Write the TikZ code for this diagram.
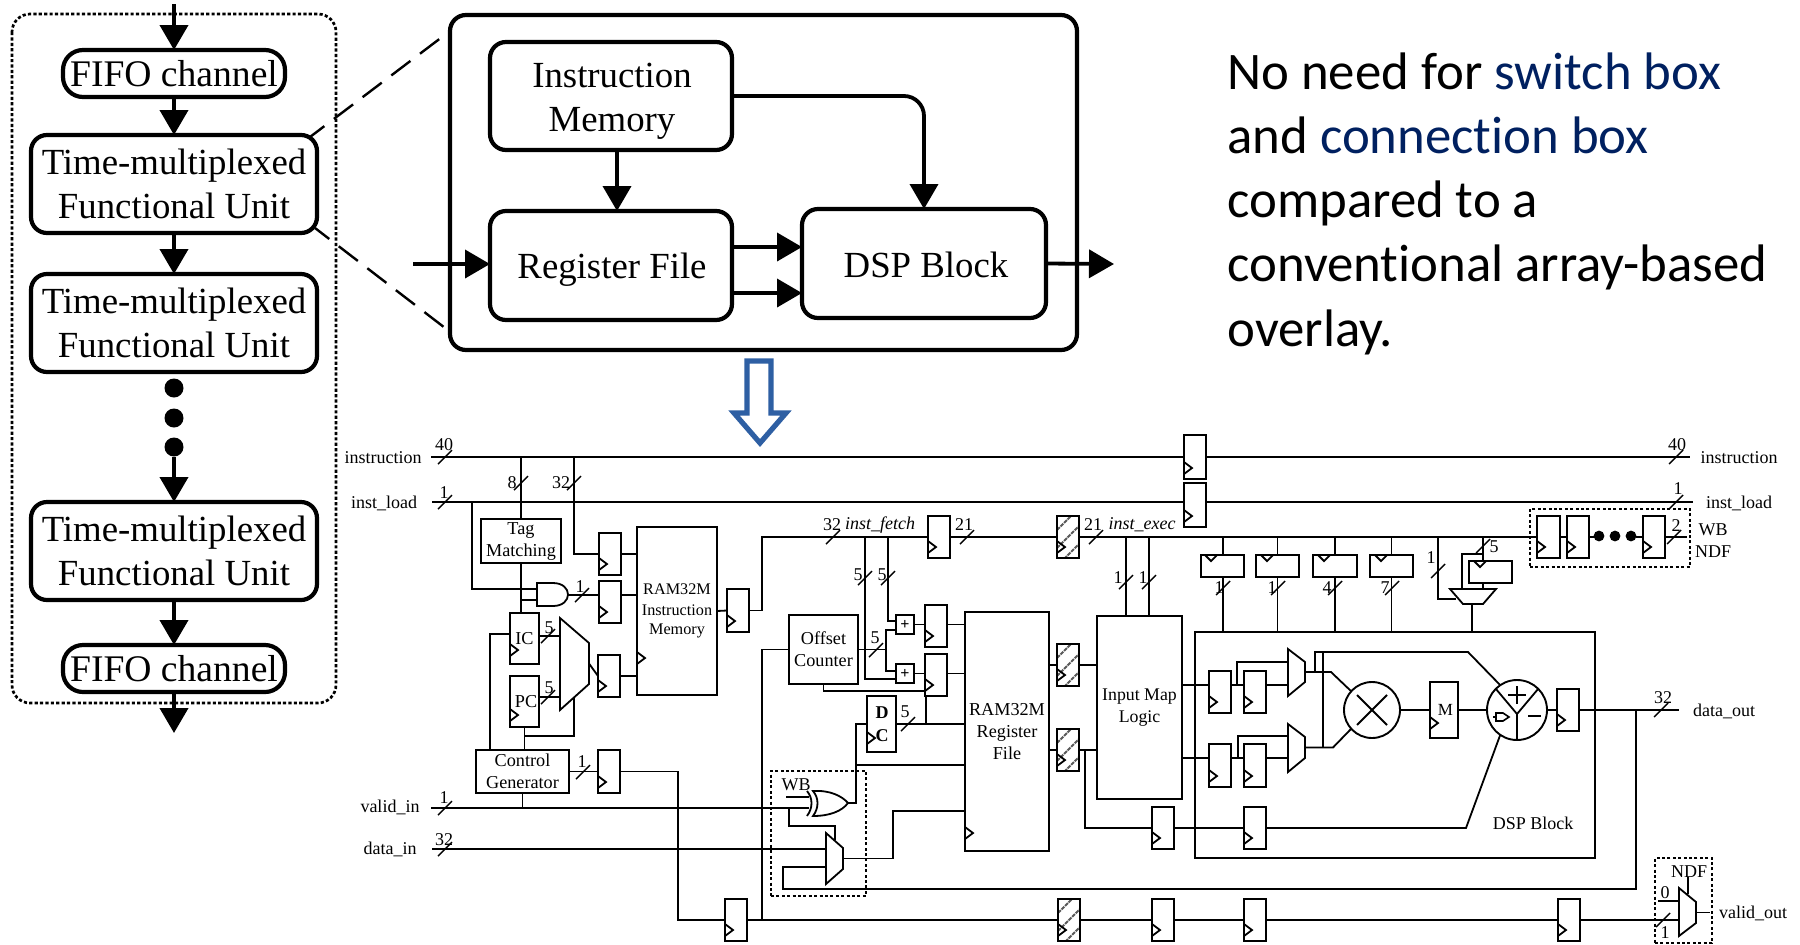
\documentclass[tikz,border=0pt]{standalone}
\usepackage{fontspec}
\setmainfont{Liberation Serif}
\newfontfamily\calfont[Ligatures=NoCommon]{Carlito}
\usetikzlibrary{arrows.meta}
\definecolor{navyw}{HTML}{002060}
\definecolor{bluearrow}{HTML}{2E5FA3}
\newcounter{lb}
\tikzset{
 wire/.style={draw=black,line width=0.9pt,line join=miter,line cap=butt},
 cbox/.style={draw=black,fill=white,line width=0.95pt,inner sep=0pt,outer sep=0pt,align=center,font=\fontsize{9.1}{11}\selectfont},
 tbox/.style={line width=2.1pt,rounded corners=8pt,font=\fontsize{18.4}{22}\selectfont},
 fifobox/.style={tbox,rounded corners=10pt,font=\fontsize{18.8}{22}\selectfont},
 mainbox/.style={line width=2.1pt,rounded corners=8pt,fill=none},
 dbox/.style={draw=black,fill=none,line width=0.75pt,dash pattern=on 1.5pt off 1.2pt},
 barrow/.style={draw=black,line width=2pt,-{Triangle[length=12.5pt,width=14pt]}},
 harrow/.style={barrow,line width=1.9pt},
 tx/.style={inner sep=0pt,outer sep=0pt,font=\fontsize{9}{11}\selectfont},
 tlab/.style={inner sep=0pt,outer sep=0pt,align=center,font=\fontsize{18.4}{22}\selectfont},
 hatchl/.style={draw=black!65,line width=1pt,dash pattern=on 2pt off 0.5pt},
 bigt/.style={inner sep=0pt,anchor=base west,font=\calfont\fontsize{26.4}{30}\selectfont},
 bmk/.style={draw=black,line width=0.7pt},
 dashl/.style={draw=black,line width=1.2pt,dash pattern=on 12pt off 6pt,dash phase=3pt},
}
\newcommand{\bx}[7][]{\node[cbox,#1,minimum width={(#5-#3)*0.5pt},minimum height={(#6-#4)*0.5pt}] (#2) at ({(#3+#5)/2},{(#4+#6)/2}) {#7};}
\newcommand{\clk}[2]{\draw[wire] ([shift={(0,-#2-6)}]#1.south west) -- ([shift={(8,-#2)}]#1.south west) -- ([shift={(0,-#2+6)}]#1.south west);}
\newcommand{\tclk}[2]{\draw[wire] ([shift={(#2-6,0)}]#1.north west) -- ([shift={(#2,6)}]#1.north west) -- ([shift={(#2+6,0)}]#1.north west);}
\newcommand{\ff}[5]{\bx{#1}{#2}{#3}{#4}{#5}{}\clk{#1}{11}}
\newcommand{\tff}[6]{\bx{#1}{#2}{#3}{#4}{#5}{}\tclk{#1}{#6}}
\newcommand{\hff}[5]{\bx{#1}{#2}{#3}{#4}{#5}{}
 \begin{scope}\clip (#1.south west) rectangle (#1.north east);
 \foreach \k in {14,32,50}{\draw[hatchl] ({#2},{#3+\k}) -- ({#4},{#3+\k-22});}
 \end{scope}
 \draw[wire] (#1.south west) rectangle (#1.north east);\clk{#1}{11}}
\newcommand{\busmark}[2]{\draw[bmk] ({#1-7},{#2+7}) -- ({#1+7},{#2-7});}
\newcommand{\lab}[3]{\stepcounter{lb}\node[tx] (lb\arabic{lb}) at (#1,#2) {#3};}
\newcommand{\mux}[7]{\draw[wire,fill=white] (#2,#3) -- (#5,#6) -- (#5,#7) -- (#2,#4) -- cycle;
 \coordinate (#1-w) at (#2,{(#3+#4)/2}); \coordinate (#1-e) at (#5,{(#6+#7)/2});}
\begin{document}
\begin{tikzpicture}[x=0.5pt,y=-0.5pt]
\useasboundingbox (0,0) rectangle (1800,944);
% ---------- left column
\draw[line width=1.35pt,dash pattern=on 1.6pt off 1.1pt,rounded corners=9pt] (12,14) rectangle (336,703);
\bx[fifobox]{fa}{63}{50}{285}{97}{FIFO channel}
\bx[tbox]{tm1}{31}{135}{317}{233}{Time-multiplexed\\Functional Unit}
\bx[tbox]{tm2}{31}{274}{317}{372}{Time-multiplexed\\Functional Unit}
\node[circle,fill=black,inner sep=0pt,minimum size=9.5pt] (d1) at (174,388) {};
\node[circle,fill=black,inner sep=0pt,minimum size=9.5pt] (d2) at (174,418) {};
\node[circle,fill=black,inner sep=0pt,minimum size=9.5pt] (d3) at (174,447) {};
\bx[tbox]{tm3}{31}{502}{317}{600}{Time-multiplexed\\Functional Unit}
\bx[fifobox]{fb}{63}{645}{285}{692}{FIFO channel}
\coordinate (topin) at (174,4);
\coordinate (botout) at (174,733);
\draw[barrow] (topin) -- (fa.north);
\draw[barrow] (fa.south) -- (tm1.north);
\draw[barrow] (tm1.south) -- (tm2.north);
\draw[barrow] (d3.south) -- (tm3.north);
\draw[barrow] (tm3.south) -- (fb.north);
\draw[barrow] (fb.south) -- (botout);
% ---------- zoom block
\bx[mainbox]{fu}{450}{15}{1077}{350}{}
\bx[tbox]{im}{490}{42}{732}{150}{}
\bx[tbox]{rf}{490}{211}{732}{320}{}
\bx[tbox]{dsp}{802}{209}{1046}{318}{}
\node[tlab] (imt) at (612,101) {Instruction\\Memory};
\node[tlab] (rft) at (612,270) {Register File};
\node[tlab] (dspt) at (926,265) {DSP Block};
\coordinate (dl1) at (310,137); \coordinate (dl2) at (446,34);
\coordinate (dl3) at (315,228); \coordinate (dl4) at (449,331);
\draw[dashl] (dl1) -- (dl2);
\draw[dashl] (dl3) -- (dl4);
\draw[harrow] ([xshift=3pt]im.south) -- ([xshift=3pt]rf.north);
\draw[harrow,rounded corners=10pt] (im.east) -| (dsp.north);
\coordinate (rr1) at (732,247); \coordinate (rr2) at (732,293);
\draw[harrow] (rr1) -- (rr1 -| dsp.west);
\draw[harrow] (rr2) -- (rr2 -| dsp.west);
\coordinate (fuin) at (413,264); \coordinate (fuout) at (1114,264);
\draw[harrow] (fuin) -- (fuin -| rf.west);
\draw[harrow] (dsp.east) -- (fuout);
% ---------- blue arrow
\draw[draw=bluearrow,fill=white,line width=2.6pt,line join=miter] (747,361) -- (771,361) -- (771,413) -- (786,413) -- (760,443) -- (734,413) -- (747,413) -- cycle;
% ---------- right text
\node[bigt] (s1) at (1227,89) {No need for \textcolor{navyw}{switch box}};
\node[bigt] (s2) at (1227,153) {and \textcolor{navyw}{connection box}};
\node[bigt] (s3) at (1227,217) {compared to a};
\node[bigt] (s4) at (1227,281) {conventional array-based};
\node[bigt] (s5) at (1227,346) {overlay.};
% ---------- dashed groups
\bx[dbox]{wbbox}{771}{771}{866}{896}{}
\bx[dbox]{ffbox}{1530}{509}{1690}{567}{}
\bx[dbox]{ndfbox}{1655}{858}{1712}{943}{}
% ---------- circuit coordinates
\coordinate (ini) at (431,457); \coordinate (ino) at (1690,457);
\coordinate (lni) at (432,502); \coordinate (lno) at (1693,502);
\coordinate (vi) at (431,808); \coordinate (di) at (432,849);
\coordinate (jt) at (574,457); \coordinate (jl) at (472,502);
\coordinate (main) at (762,537); \coordinate (jd) at (1636,710);
% ---------- boxes
\ff{fin}{1184}{435}{1206}{479}
\ff{fln}{1184}{483}{1206}{527}
\bx{tag}{481}{519}{561}{563}{Tag\\Matching}
\ff{fa1}{599}{533}{621}{575}
\ff{fa2}{599}{581}{621}{623}
\ff{fa3}{598}{655}{620}{697}
\ff{fa4}{598}{750}{620}{793}
\ff{fa5}{727}{589}{749}{632}
\bx[font=\fontsize{8.1}{10}\selectfont]{ramim}{637}{527}{717}{695}{RAM32M\\[0.5pt]Instruction\\[-0.5pt]Memory}
\clk{ramim}{37}
\bx{ic}{510}{613}{539}{664}{IC}\clk{ic}{14}
\bx{pc}{510}{676}{539}{727}{\,PC}\clk{pc}{12}
\bx{ctl}{476}{750}{569}{793}{Control\\Generator}
\bx{oc}{789}{615}{858}{684}{Offset\\Counter}
\bx[font=\bfseries\fontsize{8}{9}\selectfont]{pla}{896}{615}{914}{634}{+}
\bx[font=\bfseries\fontsize{8}{9}\selectfont]{plb}{896}{664}{914}{683}{+}
\ff{fy1}{925}{605}{947}{647}
\ff{fy2}{925}{654}{947}{696}
\bx{dc}{867}{696}{896}{752}{}\clk{dc}{14}
\bx{ramr}{965}{612}{1049}{851}{RAM32M\\Register\\File}\clk{ramr}{18}
\ff{fm}{928}{516}{950}{558}
\hff{hm}{1057}{516}{1079}{558}
\hff{hr1}{1057}{644}{1079}{686}
\hff{hr2}{1057}{729}{1079}{771}
\bx[font=\fontsize{8.9}{11}\selectfont]{imap}{1097}{616}{1182}{799}{Input Map\\Logic}
\ff{f5}{1152}{807}{1174}{849}
\bx[fill=none]{dspb}{1195}{632}{1595}{858}{}
\ff{fp1}{1209}{671}{1231}{713}
\ff{fp2}{1244}{671}{1266}{713}
\ff{fq1}{1209}{744}{1231}{787}
\ff{fq2}{1244}{744}{1266}{787}
\ff{f6}{1244}{807}{1266}{849}
\tff{tf1}{1201}{555}{1244}{577}{10}
\tff{tf2}{1256}{555}{1299}{577}{11}
\tff{tf3}{1313}{555}{1357}{577}{11}
\tff{tf4}{1370}{555}{1413}{577}{11}
\tff{tf5}{1469}{561}{1512}{583}{11}
\ff{fw1}{1537}{516}{1560}{558}
\ff{fw2}{1567}{516}{1589}{558}
\ff{fw3}{1643}{516}{1665}{558}
\node[circle,fill=black,inner sep=0pt,minimum size=5.4pt] (w1) at (1599,536) {};
\node[circle,fill=black,inner sep=0pt,minimum size=5.4pt] (w2) at (1615,536) {};
\node[circle,fill=black,inner sep=0pt,minimum size=5.4pt] (w3) at (1631,536) {};
\bx{fmm}{1430}{682}{1458}{738}{\,\fontsize{8.5}{9}\selectfont M}\clk{fmm}{15}
\ff{f7}{1557}{689}{1579}{731}
\node[draw=black,fill=white,circle,line width=0.95pt,minimum size=28pt,inner sep=0pt,outer sep=0pt] (mult) at (1372,710) {};
\node[draw=black,fill=white,circle,line width=0.95pt,minimum size=30pt,inner sep=0pt,outer sep=0pt] (add) at (1517,710) {};
\ff{fb1}{725}{899}{747}{941}
\hff{hb}{1058}{899}{1080}{941}
\ff{fb2}{1152}{899}{1174}{941}
\ff{fb3}{1244}{899}{1266}{941}
\ff{fb4}{1558}{899}{1580}{941}
% gates
\draw[wire,fill=white] (537,583) -- (553,583) .. controls (573,583) and (573,606) .. (553,606) -- (537,606) -- cycle;
\coordinate (ando) at (568,595);
\draw[wire,fill=white] (813,791) .. controls (830,790) and (842,796) .. (848,803) .. controls (842,811) and (830,816) .. (813,816) .. controls (819,808) and (819,798) .. (813,791) -- cycle;
\draw[wire] (807,791) .. controls (813,798) and (813,808) .. (807,816);
\coordinate (xo) at (848,803);
\mux{mi}{560}{618}{710}{589}{643}{684}
\mux{mw}{826}{833}{884}{843}{848}{869}
\mux{mxa}{1288}{649}{696}{1305}{662}{682}
\mux{mxb}{1288}{724}{772}{1305}{737}{758}
\mux{vm}{1679}{888}{936}{1696}{902}{923}
\draw[wire,fill=white] (1450,589) -- (1496,589) -- (1483,604) -- (1463,604) -- cycle;
% ---------- wires: inputs
\draw[wire] (ini) -- (fin.west);
\draw[wire] (fin.east) -- (ino);
\draw[wire] (lni) -- (lni -| fln.west);
\draw[wire] (lni -| fln.east) -- (lno);
\draw[wire] (tag.north) -- (tag.north |- ini);
\draw[wire] (jt) |- (fa1.west);
\draw[wire] (fa1.east) -- (fa1.east -| ramim.west);
\draw[wire] (jl) |- (537,589);
\draw[wire] (tag.south) -- (tag.south |- ic.north);
\draw[wire] (521,600) -- (537,600);
\draw[wire] (ando) -- (ando -| fa2.west);
\draw[wire] (ando -| fa2.east) -- (ando -| ramim.west);
\draw[wire] (ic.east |- 0,636) -- (560,636);
\draw[wire] (pc.east |- 0,697) -- (560,697);
\draw[wire] (mi-e) -- (fa3.west);
\draw[wire] (fa3.east) -- (fa3.east -| ramim.west);
\draw[wire] (pc.south) -- (pc.south |- ctl.north);
\draw[wire] (574,697) |- (pc.south |- 0,736);
\draw[wire] ([xshift=7pt]ctl.north west) |- (ic.west |- 0,634);
\draw[wire] (ctl.east) -- (fa4.west);
\draw[wire] (fa4.east) -- (678,771.5) |- (fb1.west);
\draw[wire] (ctl.south) -- (ctl.south |- vi);
\draw[wire] (vi) -- (809,808);
\draw[wire] (786,797) -- (809,797);
\draw[wire] (789,808) |- (835,826) -- (835,840);
\draw[wire] (di) -- (di -| mw-w);
\draw[wire] (ramim.east) -- (fa5.west);
\draw[wire] (fa5.east) -- (762,610.5) |- (fm.west);
\draw[wire] (fm.east) -- (hm.west);
\draw[wire] (hm.east) -- (fw1.west);
\draw[wire] (fw1.east) -- (fw2.west);
\draw[wire] (fw2.east) -- (1596,537);
\draw[wire] (1636,537) -- (fw3.west);
\draw[wire] (fw3.east) -- (1687,537);
% offset / reg file
\draw[wire] (oc.west) -| (762,920);
\draw[wire] (fb1.east) -- (hb.west);
\draw[wire] (hb.east) -- (fb2.west);
\draw[wire] (fb2.east) -- (fb3.west);
\draw[wire] (fb3.east) -- (fb4.west);
\draw[wire] (fb4.east) -- (fb4.east -| vm-w);
\coordinate (jo) at (886,649.5);
\draw[wire] (oc.east) -- (jo);
\draw[wire] (jo) |- (pla.west |- 0,630);
\draw[wire] (jo) |- (plb.west |- 0,671);
\draw[wire] (888,537) |- (pla.west |- 0,621);
\draw[wire] (865,537) |- (plb.west |- 0,679);
\draw[wire] (oc.south) |- (fy2.west |- 0,691);
\draw[wire] (pla.east) -- (pla.east -| fy1.west);
\draw[wire] (pla.east -| fy1.east) -- (pla.east -| ramr.west);
\draw[wire] (plb.east) -- (plb.east -| fy2.west);
\draw[wire] (plb.east -| fy2.east) -- (plb.east -| ramr.west);
\draw[wire] (dc.east) -- (dc.east -| ramr.west);
\draw[wire] (926,724) -- (926,696);
\draw[wire] (xo) -- (856,803) |- (dc.west);
\draw[wire] (856,765) -- (ramr.west |- 0,765);
\draw[wire] (mw-e) -- (893,858.5) |- (ramr.west |- 0,811);
\draw[wire] (jd) |- (783,889) |- (mw-w |- 0,867);
\draw[wire] (hr1.west -| ramr.east) -- (hr1.west);
\draw[wire] (hr1.east) -- (hr1.east -| imap.west);
\draw[wire] (hr2.west -| ramr.east) -- (hr2.west);
\draw[wire] (hr2.east) -- (hr2.east -| imap.west);
\draw[wire] (1126,537) -- (1126,616);
\draw[wire] (1149,537) -- (1149,616);
\draw[wire] (1085,750) |- (f5.west);
\draw[wire] (f5.east) -- (f6.west);
\draw[wire] (f6.east) -- (1466,828) -- (add.236);
% config registers
\draw[wire] (1223,537) -- (1223,555);
\draw[wire] (1223,577) -- (1223,632);
\draw[wire] (tf2.north |- main) -- (tf2.north);
\draw[wire] (tf2.south) -- (tf2.south |- dspb.north);
\draw[wire] (tf3.north |- main) -- (tf3.north);
\draw[wire] (tf3.south) -- (tf3.south |- dspb.north);
\draw[wire] (tf4.north |- main) -- (tf4.north);
\draw[wire] (tf4.south) -- (tf4.south |- dspb.north);
\draw[wire] (1438,537) |- (1456,599);
\draw[wire] (1483,537) -- (1483,561);
\draw[wire] (1483,583) -- (1483,589);
\draw[wire] (1483,554) -| (1462,589);
\draw[wire] (1472,604) -- (1472,632);
% DSP internals
\coordinate (ra) at (1182,685); \coordinate (rb) at (1182,758);
\draw[wire] (ra) -- (ra -| fp1.west);
\draw[wire] (ra -| fp1.east) -- (ra -| fp2.west);
\draw[wire] (ra -| fp2.east) -- (1288,685);
\draw[wire] (1237,685) |- (1288,662);
\draw[wire] (rb) -- (rb -| fq1.west);
\draw[wire] (rb -| fq1.east) -- (rb -| fq2.west);
\draw[wire] (rb -| fq2.east) -- (1288,758);
\draw[wire] (1238,758) |- (1288,736);
\draw[wire] (mxa-e) -- (1331,672) -- (mult.138);
\draw[wire] (mxb-e) -- (1323,747.5) -- (1333,747.5) -- (mult.222);
\draw[wire] (1315,672) |- (1468,652) -- (add.124);
\draw[wire] (1323,652) -- (1323,747.5);
\draw[wire] (mult.east) -- (fmm.west);
\draw[wire] (fmm.east) -- (add.west);
\draw[wire] (add.east) -- (f7.west);
\draw[line width=0.95pt] ([shift={(-15,-15)}]mult.center) -- ([shift={(15,15)}]mult.center);
\draw[line width=0.95pt] ([shift={(-15,15)}]mult.center) -- ([shift={(15,-15)}]mult.center);
\coordinate (ady) at (1517,714);
\draw[wire] (ady) -- (add.135);
\draw[wire] (ady) -- (add.45);
\draw[wire] (ady) -- (add.south);
\draw[line width=1pt] (1517,686) -- (1517,704);
\draw[line width=1pt] (1508,695) -- (1526,695);
\draw[line width=1pt] (1528,716) -- (1541,716);
\draw[line width=0.7pt] (1493,717) -- (1496,717);
\draw[line width=0.8pt] (1496,713) -- (1503,713) -- (1509,717) -- (1503,721) -- (1496,721) -- cycle;
\draw[wire] (f7.east) -- (1679,710);
% valid_out mux
\draw[wire] (1658,901) -- (1679,901);
\draw[wire] (vm-e) -- (1710,912.5);
\draw[wire] (1688,877) -- (1688,894);
% ---------- bus marks
\busmark{445}{457}\busmark{445}{502}\busmark{445}{808}\busmark{445}{849}
\busmark{1676}{457}\busmark{1676}{502}
\busmark{521}{483}\busmark{574}{483}
\busmark{582}{595}\busmark{548}{636}\busmark{548}{697}\busmark{583}{772}
\busmark{833}{537}\busmark{967}{537}\busmark{1096}{537}
\busmark{865}{578}\busmark{888}{578}\busmark{876}{650}\busmark{908}{724}
\busmark{1126}{582}\busmark{1149}{582}
\busmark{1223}{588}\busmark{1278}{588}\busmark{1335}{588}\busmark{1392}{588}
\busmark{1438}{571}\busmark{1483}{546}\busmark{1674}{537}
\busmark{1661}{710}\busmark{1663}{920}
% ---------- circuit text
\lab{383}{458}{instruction}
\lab{384}{503}{inst\_load}
\lab{390}{807}{valid\_in}
\lab{390}{849}{data\_in}
\lab{444}{445}{40}\lab{444}{493}{1}\lab{444}{798}{1}\lab{444}{840}{32}
\lab{512}{483}{8}\lab{561}{483}{32}
\lab{580}{587}{1}\lab{549}{628}{5}\lab{549}{688}{5}\lab{582}{762}{1}
\lab{832}{525}{32}\lab{880}{525}{\itshape inst\_fetch}
\lab{964}{525}{21}\lab{1093}{525}{21}\lab{1142}{525}{\itshape inst\_exec}
\lab{858}{575}{5}\lab{882}{575}{5}\lab{875}{638}{5}\lab{905}{712}{5}
\lab{1118}{578}{1}\lab{1143}{578}{1}
\lab{1219}{588}{1}\lab{1272}{588}{1}\lab{1327}{588}{4}\lab{1385}{588}{7}
\lab{1431}{558}{1}\lab{1494}{547}{5}
\lab{1676}{526}{2}\lab{1713}{530}{WB}\lab{1713}{552}{NDF}
\lab{1678}{489}{1}\lab{1677}{445}{40}
\lab{1739}{458}{instruction}\lab{1739}{503}{inst\_load}
\lab{1663}{698}{32}\lab{1724}{711}{data\_out}
\lab{1533}{823}{DSP Block}
\lab{882}{713}{\bfseries D}\lab{882}{736}{\bfseries C}
\lab{796}{785}{WB}
\lab{1665}{893}{0}\lab{1665}{933}{1}\lab{1689}{872}{NDF}
\lab{1753}{913}{valid\_out}
\end{tikzpicture}
\end{document}
